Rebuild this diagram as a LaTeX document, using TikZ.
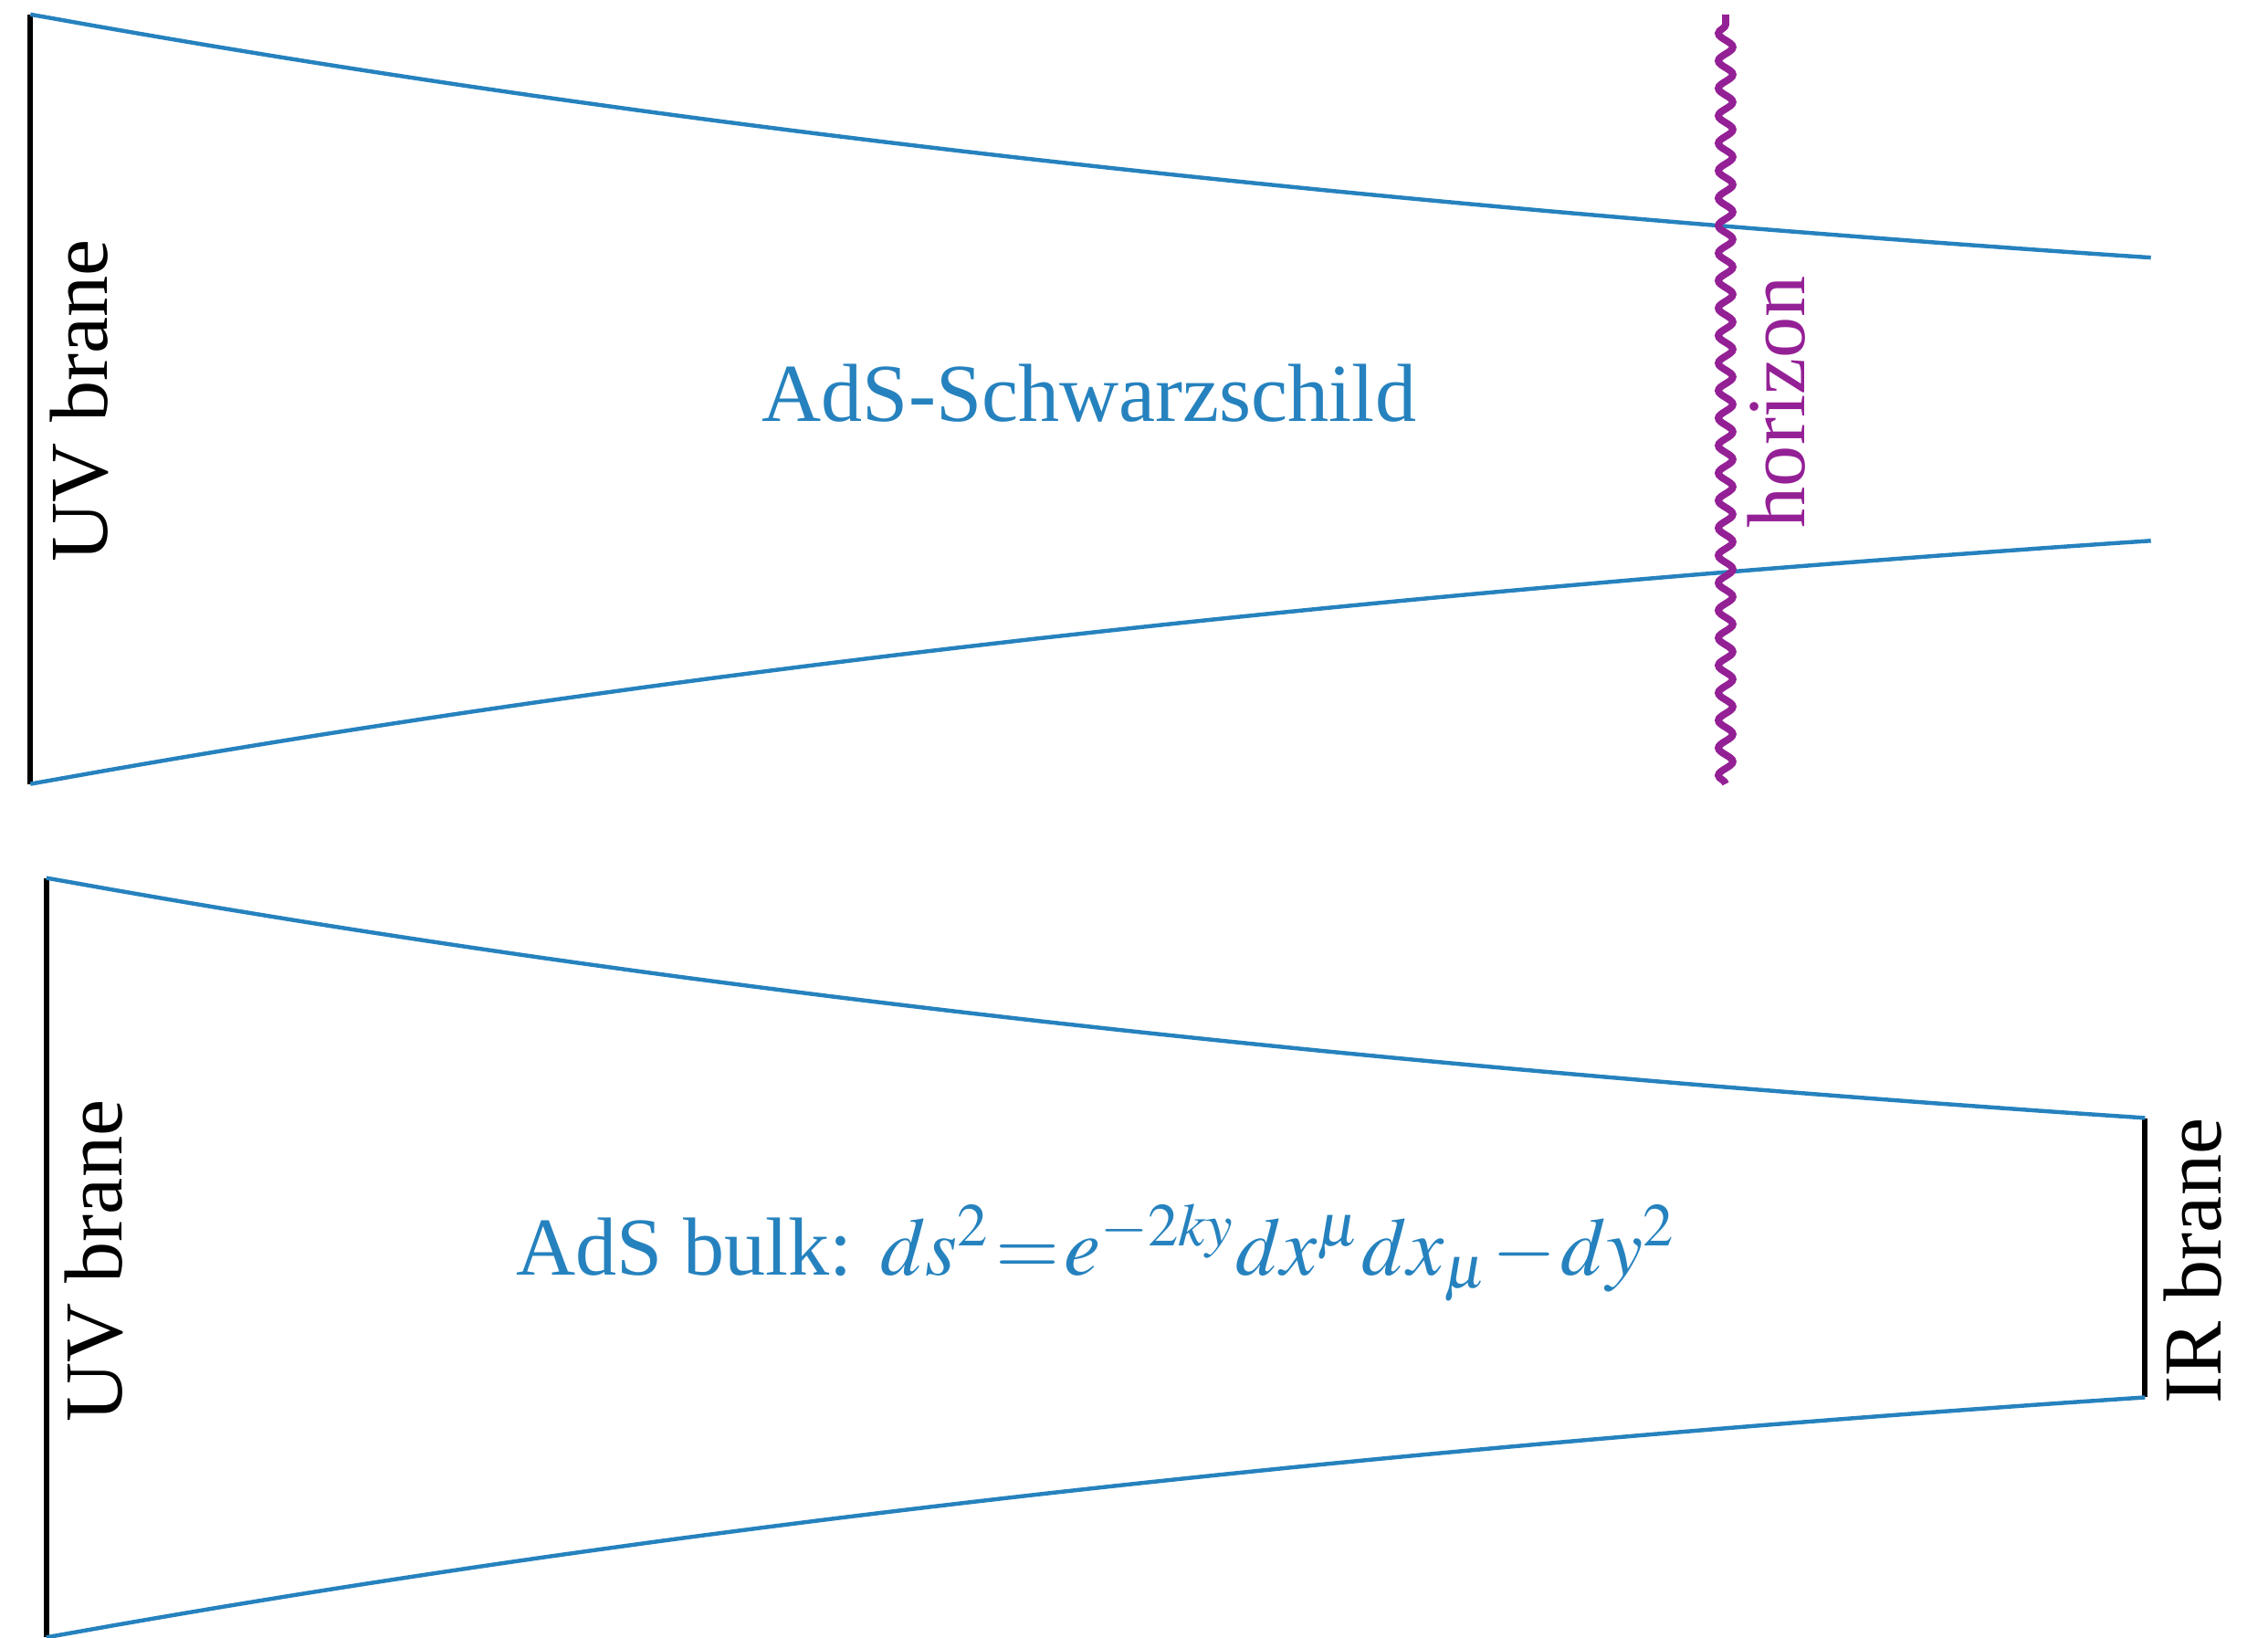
\documentclass[tikz,border=0pt]{standalone}
\usepackage{mathptmx}
\usepackage{fontspec}
\setmainfont{Liberation Serif}
\usetikzlibrary{decorations.pathmorphing}
\definecolor{warpblue}{RGB}{38,130,190}
\definecolor{horizonpurple}{RGB}{148,32,150}

\begin{document}
\begin{tikzpicture}[
  brane/.style={draw=black, line width=1.1pt},
  warp/.style={draw=warpblue, line width=0.8pt},
  horizonline/.style={draw=horizonpurple, line width=1.4pt,
                      decorate, decoration={snake, amplitude=0.5mm, segment length=1.9mm}},
  branelab/.style={rotate=90, font=\fontsize{16.2}{19}\selectfont, inner sep=0pt},
  bulklab/.style={text=warpblue, font=\fontsize{16.2}{19}\selectfont, inner sep=0pt}
]
\useasboundingbox (0,0) rectangle (15.68,11.32);

% Top panel: AdS-Schwarzschild with horizon
\coordinate (uvtop) at (0.21,11.22);
\coordinate (uvbot) at (0.21,5.90);
\draw[brane] (uvtop) -- (uvbot);
\draw[warp] plot[domain=0.21:14.87, samples=60] (\x, {8.56+2.66*exp(-(\x-0.21)/14.66)});
\draw[warp] plot[domain=0.21:14.87, samples=60] (\x, {8.56-2.66*exp(-(\x-0.21)/14.66)});
\coordinate (hztop) at (11.93,11.22);
\coordinate (hzbot) at (11.93,5.90);
\draw[horizonline] (hzbot) -- (hztop);

\node[branelab] (uv1) at (0.55,8.55) {UV brane};
\node[branelab, text=horizonpurple] (hz) at (12.28,8.54) {horizon};
\node[bulklab] (ads1) at (7.53,8.60) {AdS-Schwarzschild};

% Bottom panel: AdS bulk between UV and IR branes
\coordinate (uvtop2) at (0.32,5.25);
\coordinate (uvbot2) at (0.32,0.00);
\coordinate (irtop) at (14.83,3.59);
\coordinate (irbot) at (14.83,1.66);
\draw[brane] (uvtop2) -- (uvbot2);
\draw[brane] (irtop) -- (irbot);
\draw[warp] plot[domain=0.32:14.83, samples=60] (\x, {2.625+2.625*exp(-(\x-0.32)/14.51)});
\draw[warp] plot[domain=0.32:14.83, samples=60] (\x, {2.625-2.625*exp(-(\x-0.32)/14.51)});

\node[branelab] (uv2) at (0.65,2.60) {UV brane};
\node[branelab] (ir) at (15.16,2.60) {IR brane};
\node[bulklab] (ads2) at (7.58,2.66)
  {AdS bulk: $\thickmuskip=1mu \medmuskip=1mu ds^2=e^{-2ky}dx^\mu dx_\mu-dy^2$};

\end{tikzpicture}
\end{document}
